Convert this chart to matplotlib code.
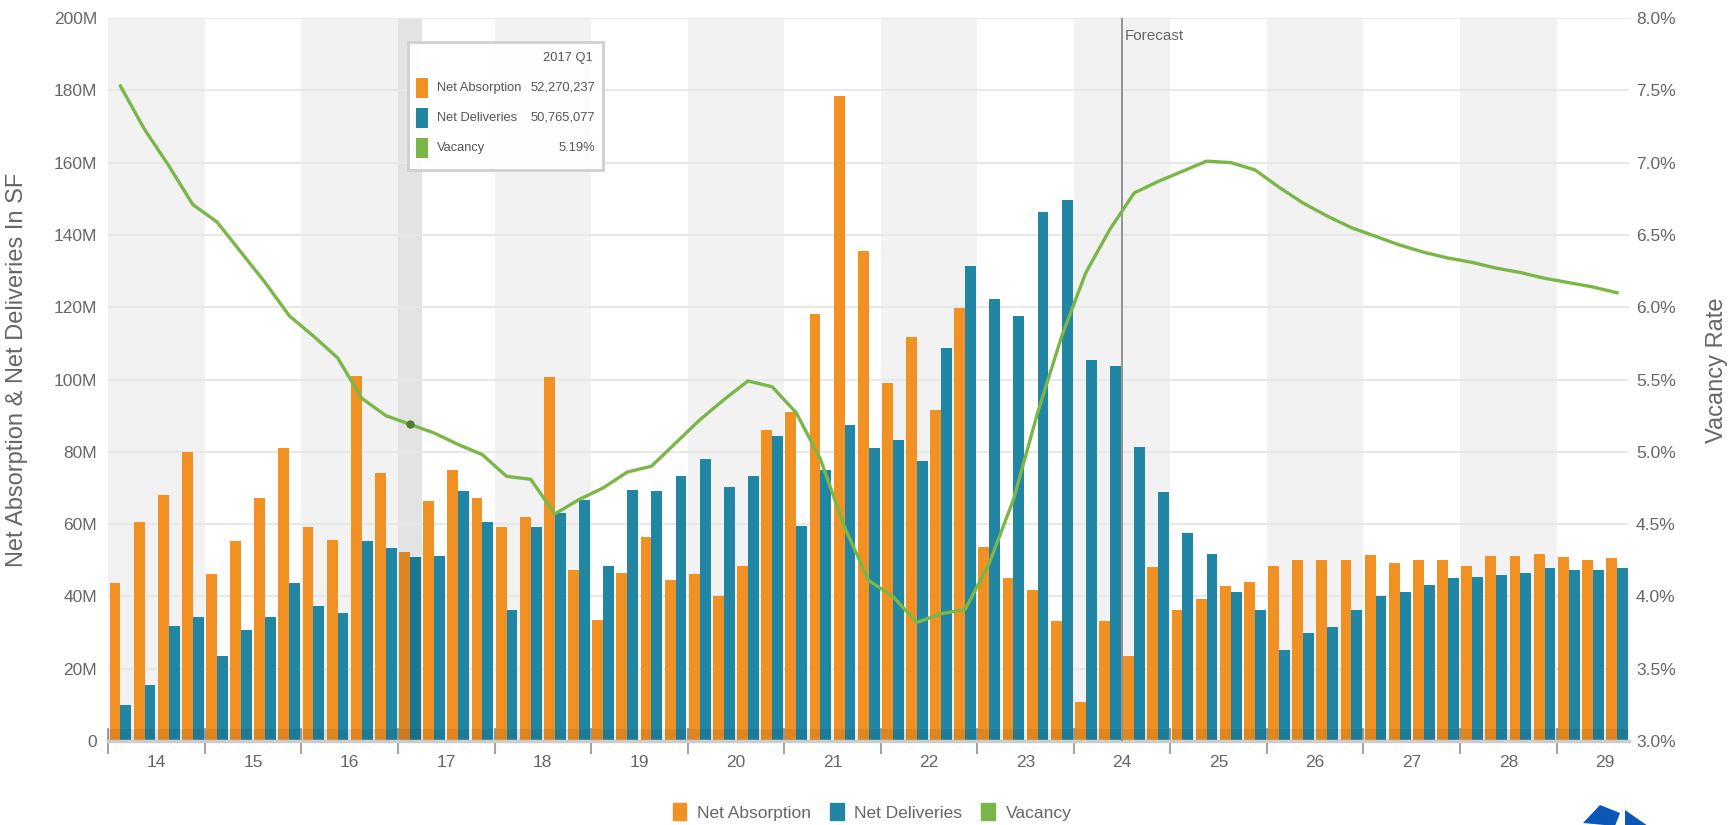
import matplotlib
matplotlib.use("Agg")
import matplotlib.pyplot as plt
from matplotlib import font_manager
from matplotlib.patches import Patch, Rectangle, Polygon

# quarterly figures, 2014 Q1 .. 2029 Q3, in millions of SF
years = ["14", "15", "16", "17", "18", "19", "20", "21",
         "22", "23", "24", "25", "26", "27", "28", "29"]

net_absorption = [43.7, 60.5, 68.1, 80.0,
                  46.2, 55.2, 67.2, 81.1,
                  59.2, 55.5, 100.9, 74.0,
                  52.270237, 66.5, 74.9, 67.2,
                  59.2, 62.1, 100.7, 47.2,
                  33.5, 46.4, 56.4, 44.6,
                  46.2, 40.0, 48.3, 86.1,
                  91.0, 118.0, 178.5, 135.5,
                  99.1, 111.8, 91.7, 119.9,
                  53.8, 45.1, 41.8, 33.1,
                  10.9, 33.1, 23.4, 48.0,
                  36.1, 39.2, 42.9, 44.1,
                  48.3, 50.1, 50.1, 50.1,
                  51.5, 49.2, 50.1, 50.1,
                  48.3, 51.1, 51.1, 51.8,
                  51.0, 50.1, 50.5]

net_deliveries = [10.0, 15.5, 31.7, 34.4,
                  23.5, 30.6, 34.4, 43.7,
                  37.4, 35.5, 55.2, 53.5,
                  50.765077, 51.3, 69.1, 60.5,
                  36.3, 59.1, 63.2, 66.8,
                  48.3, 69.3, 69.1, 73.2,
                  78.0, 70.4, 73.4, 84.3,
                  59.4, 75.1, 87.5, 81.1,
                  83.2, 77.4, 108.8, 131.4,
                  122.2, 117.5, 146.3, 149.6,
                  105.5, 103.7, 81.3, 68.8,
                  57.5, 51.8, 41.1, 36.1,
                  25.2, 30.0, 31.4, 36.1,
                  40.2, 41.1, 43.2, 45.1,
                  45.3, 46.0, 46.6, 47.8,
                  47.2, 47.4, 47.8]

vacancy = [7.53, 7.23, 6.98, 6.71,
           6.59, 6.38, 6.17, 5.94,
           5.80, 5.65, 5.37, 5.25,
           5.19, 5.13, 5.05, 4.98,
           4.83, 4.81, 4.57, 4.67,
           4.75, 4.86, 4.90, 5.06,
           5.22, 5.36, 5.49, 5.45,
           5.27, 4.95, 4.48, 4.11,
           4.00, 3.82, 3.88, 3.91,
           4.23, 4.67, 5.27, 5.80,
           6.24, 6.54, 6.79, 6.87,
           6.94, 7.01, 7.00, 6.95,
           6.83, 6.72, 6.63, 6.55,
           6.49, 6.43, 6.38, 6.34,
           6.31, 6.27, 6.24, 6.20,
           6.17, 6.14, 6.10]

forecast_idx = 42      # 2024 Q3
hover_idx = 12         # 2017 Q1

ORANGE = "#f29123"
TEAL = "#2186a4"
GREEN = "#7ab648"
TXT = "#666666"

try:
    font_manager.findfont("Liberation Sans Narrow", fallback_to_default=False)
    base_font, fs, tip_fs = "Liberation Sans Narrow", 14, 11
except ValueError:
    base_font, fs, tip_fs = "Liberation Sans", 12.5, 9.3
plt.rcParams["font.family"] = [base_font, "DejaVu Sans"]

W, H = 1731, 825
fig = plt.figure(figsize=(W / 100, H / 100), dpi=100)
ax = fig.add_axes([108.3 / W, 1 - 741 / H, 1520.7 / W, 723 / H])

n = len(net_absorption)
x = list(range(n))

# alternating year bands
for k in range(len(years)):
    if k % 2 == 0:
        ax.axvspan(4 * k - 0.5, 4 * k + 3.5, color="#f2f2f2", lw=0, zorder=0)
ax.axvspan(hover_idx - 0.5, hover_idx + 0.5, color="#e3e3e3", lw=0, zorder=0.2)

ax.set_axisbelow(True)
ax.yaxis.grid(True, color="#e8e8e8", lw=1.5)

bw = 0.45
abs_colors = [ORANGE] * n
del_colors = [TEAL] * n
abs_colors[hover_idx] = "#db8524"
del_colors[hover_idx] = "#1d7892"
ax.bar([i - bw / 2 for i in x], net_absorption, width=bw, color=abs_colors, zorder=2)
ax.bar([i + bw / 2 for i in x], net_deliveries, width=bw, color=del_colors, zorder=2)

# shaded strip along the base
ax.add_patch(Rectangle((0, 0), 1, 12 / 723, transform=ax.transAxes,
                       color="black", alpha=0.08, lw=0, zorder=2.5))

ax.axvline(forecast_idx - 0.5, color="#8a8a8a", lw=1.3, zorder=2.6)
ax.text(forecast_idx - 0.38, 195, "Forecast", color=TXT, fontsize=fs - 1.5,
        ha="left", va="center")

ax.set_xlim(-0.5, n - 0.5)
ax.set_ylim(0, 200)
ax.set_yticks(range(0, 201, 20))
ax.set_yticklabels(["0"] + [f"{v}M" for v in range(20, 201, 20)])
ax.tick_params(axis="y", length=0, pad=8, labelsize=fs, labelcolor=TXT)

ax.set_xticks([4 * k - 0.5 for k in range(len(years))])
ax.set_xticklabels([])
ax.set_xticks([4 * k + 1.5 for k in range(len(years))], minor=True)
ax.set_xticklabels(years, minor=True)
ax.tick_params(axis="x", which="major", direction="inout", length=19,
               width=1.3, color="#9a9a9a")
ax.tick_params(axis="x", which="minor", length=0, pad=10, labelsize=fs,
               labelcolor=TXT)

for s in ["top", "left", "right"]:
    ax.spines[s].set_visible(False)
ax.spines["bottom"].set_color("#cccccc")
ax.spines["bottom"].set_linewidth(2.5)

ax2 = ax.twinx()
ax2.plot(x, vacancy, color=GREEN, lw=2.4, zorder=3)
ax2.plot([hover_idx], [vacancy[hover_idx]], "o", ms=5, color="#4f7f35", zorder=4)
ax2.set_ylim(3.0, 8.0)
ax2.set_yticks([3.0 + 0.5 * k for k in range(11)])
ax2.set_yticklabels([f"{3.0 + 0.5 * k:.1f}%" for k in range(11)])
ax2.tick_params(axis="y", length=0, pad=5, labelsize=fs, labelcolor=TXT)
for s in ax2.spines.values():
    s.set_visible(False)

fig.text(17 / W, 1 - 370 / H, "Net Absorption & Net Deliveries In SF",
         rotation=90, ha="center", va="center", color=TXT,
         fontsize=17, family=["Liberation Sans", "DejaVu Sans"])
fig.text(1717 / W, 1 - 370 / H, "Vacancy Rate", rotation=90, ha="center",
         va="center", color=TXT, fontsize=17,
         family=["Liberation Sans", "DejaVu Sans"])

# tooltip for the highlighted quarter
def fx(px):
    return px / W


def fy(py):
    return 1 - py / H


fig.add_artist(Rectangle((fx(408), fy(170)), (603 - 408) / W, (170 - 42) / H,
                         transform=fig.transFigure, facecolor=(1, 1, 1, 0.92),
                         edgecolor="#d0d0d0", lw=2, zorder=5))
fig.text(fx(593), fy(58), f"20{years[hover_idx // 4]} Q{hover_idx % 4 + 1}",
         ha="right", va="center", fontsize=tip_fs, color="#555555", zorder=6)
tip_rows = [("Net Absorption", f"{round(net_absorption[hover_idx] * 1e6):,}", ORANGE),
            ("Net Deliveries", f"{round(net_deliveries[hover_idx] * 1e6):,}", TEAL),
            ("Vacancy", f"{vacancy[hover_idx]:.2f}%", GREEN)]
for r, (lab, val, col) in enumerate(tip_rows):
    yc = 88 + 30 * r
    fig.add_artist(Rectangle((fx(416), fy(yc + 10)), 12 / W, 20 / H,
                             transform=fig.transFigure, color=col, lw=0, zorder=6))
    fig.text(fx(437), fy(yc), lab, ha="left", va="center", fontsize=tip_fs,
             color="#555555", zorder=6)
    fig.text(fx(595), fy(yc), val, ha="right", va="center", fontsize=tip_fs,
             color="#555555", zorder=6)

handles = [Patch(color=ORANGE, label="Net Absorption"),
           Patch(color=TEAL, label="Net Deliveries"),
           Patch(color=GREEN, label="Vacancy")]
fig.legend(handles=handles, loc="center", bbox_to_anchor=(872 / W, fy(812)),
           ncol=3, frameon=False, fontsize=fs, labelcolor=TXT,
           handlelength=0.8, handleheight=1.1, handletextpad=0.6,
           columnspacing=1.1, borderpad=0)

# logo corner
logo = "#0b57b5"
fig.add_artist(Polygon([(fx(1583), fy(823)), (fx(1600), fy(805)),
                        (fx(1620), fy(813)), (fx(1615), fy(826))],
                       closed=True, transform=fig.transFigure, color=logo, lw=0))
fig.add_artist(Polygon([(fx(1625), fy(810)), (fx(1648), fy(826)),
                        (fx(1625), fy(826))],
                       closed=True, transform=fig.transFigure, color=logo, lw=0))

fig.savefig("out.png", dpi=100)
